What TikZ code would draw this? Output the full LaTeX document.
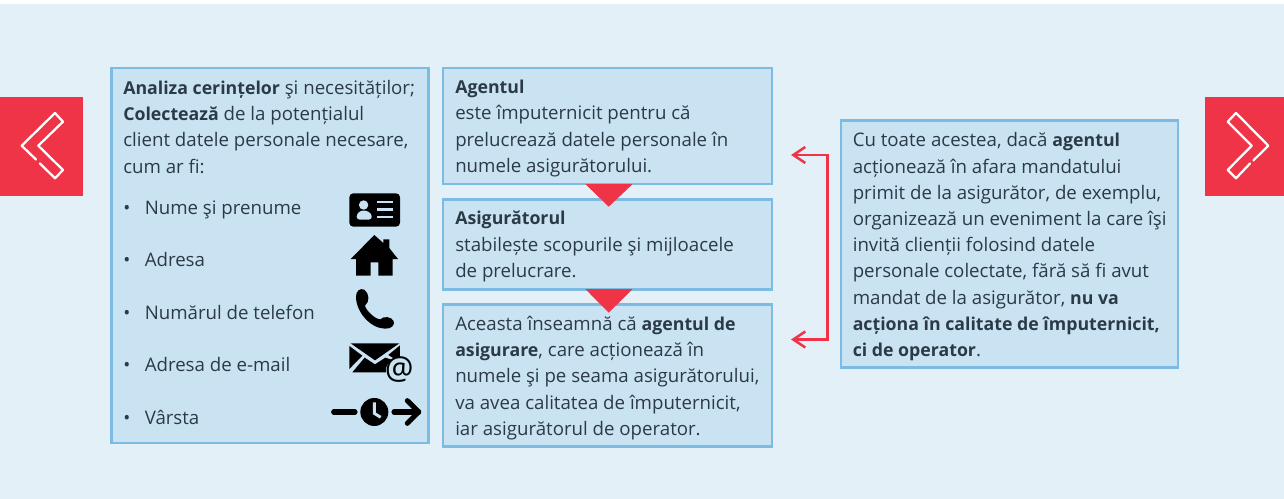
\documentclass[tikz,border=0pt]{standalone}
\usepackage{fontspec}
\setmainfont{Open Sans}[BoldFeatures={Scale=0.95}]
\usetikzlibrary{arrows.meta}
\definecolor{bgcolor}{HTML}{E3F0F8}
\definecolor{boxfill}{HTML}{CAE3F3}
\definecolor{boxline}{HTML}{7CBCE3}
\definecolor{redcolor}{HTML}{EE3446}
\definecolor{txtcolor}{HTML}{2B3A47}
\def \bodyfont {\fontsize{14pt}{19.65pt}\selectfont}
\tikzset{
  x=0.75pt,y=-0.75pt,
  infobox/.style 2 args={draw=boxline,fill=boxfill,line width=2.2pt,minimum width=#1*0.75pt,minimum height=#2*0.75pt,anchor=north west,inner sep=0pt,outer sep=0pt},
  infotext/.style={anchor=north west,align=left,text=txtcolor,inner sep=0pt,font=\bodyfont},
  itemtext/.style={anchor=base west,text=txtcolor,inner sep=0pt,font=\bodyfont},
  redbox/.style={fill=redcolor,draw=none},
  chev/.style={draw=white,line width=1.7pt,line cap=round,line join=round},
  bracket/.style={draw=redcolor,line width=1.9pt,{Straight Barb[length=9pt,width=12pt,line width=1.9pt]}-{Straight Barb[length=9pt,width=12pt,line width=1.9pt]}},
  iconline/.style={draw=black,line width=3.8pt,line cap=round,line join=round}
}
\begin{document}
\begin{tikzpicture}
\useasboundingbox (0,0) rectangle (1284,499);
\fill[bgcolor] (0,4) rectangle (1284,499);
% Side buttons
\fill[redbox] (0,97) rectangle (83,196);
\fill[redbox] (1205,97) rectangle (1284,196);
\draw[chev] (36,159.5) -- (21.7,145.7) -- (55,113) -- (63,121.7) -- (38.3,145.7) -- (63,170) -- (55,178.3) -- (40,163.5);
\draw[chev] (1253.3,160.5) -- (1268.3,145.7) -- (1236,113) -- (1227.7,121.7) -- (1251.7,145.7) -- (1227.7,170) -- (1236,178.3) -- (1250,163.5);
% Boxes
\node[infobox={317}{375}] (reqbox) at (111.5,68) {};
\node[infobox={329}{116}] (agentbox) at (443,68) {};
\node[infobox={329}{90}] (insurerbox) at (443,199.5) {};
\node[infobox={329}{142}] (meaningbox) at (443,304.5) {};
\node[infobox={337}{247}] (outsidebox) at (841,120.5) {};
% Triangles between the boxes
\fill[redcolor] (585.3,184) -- (632.7,184) -- (608.7,206.7) -- cycle;
\fill[redcolor] (585.3,289) -- (632.7,289) -- (608.7,312.7) -- cycle;
% Texts
\node[infotext] (reqtext) at (123,80) {\textbf{Analiza cerințelor} şi necesităților;\\\textbf{Colectează} de la potențialul\\client datele personale necesare,\\cum ar fi:};
\node[infotext] (agenttext) at (455,80) {\textbf{Agentul}\\este împuternicit pentru că\\prelucrează datele personale în\\numele asigurătorului.};
\node[infotext] (insurertext) at (455,211) {\textbf{Asigurătorul}\\stabilește scopurile şi mijloacele\\de prelucrare.};
\node[infotext] (meaningtext) at (455,316) {Aceasta înseamnă că \textbf{agentul de}\\\textbf{asigurare}, care acționează în\\numele şi pe seama asigurătorului,\\va avea calitatea de împuternicit,\\iar asigurătorul de operator.};
\node[infotext] (outsidetext) at (852.5,132.5) {Cu toate acestea, dacă \textbf{agentul}\\acționează în afara mandatului\\primit de la asigurător, de exemplu,\\organizează un eveniment la care îşi\\invită clienții folosind datele\\personale colectate, fără să fi avut\\mandat de la asigurător, \textbf{nu va}\\\textbf{acționa în calitate de împuternicit,}\\\textbf{ci de operator}.};
% List items
\foreach \i/\ypos/\itemlabel in {1/214/Nume şi prenume,2/266/Adresa,3/319/Numărul de telefon,4/371/Adresa de e-mail,5/424/Vârsta}
{
\node[itemtext] (bullet\i) at (123,\ypos) {•};
\node[itemtext] (item\i) at (144.5,\ypos) {\itemlabel};
}
% Bracket
\coordinate (agentend) at (791,155);
\coordinate (meaningend) at (791,339.5);
\coordinate (bracktop) at (827.7,155);
\coordinate (brackbot) at (827.7,339.5);
\draw[bracket] (agentend) -- (bracktop) -- (brackbot) -- (meaningend);
% Id card
\fill[black,rounded corners=3pt] (349.3,193.3) rectangle (400,226.7);
\fill[boxfill] (363.6,205) circle (4.7);
\fill[boxfill,rounded corners=2pt] (356.7,219.5) -- (356.7,214) -- (361,210.5) -- (366.5,210.5) -- (371.7,214) -- (371.7,219.5) -- cycle;
\foreach \ypos in {201.7,209.4,217.3}
{
\fill[boxfill] (376.7,\ypos-1.1) rectangle (392.7,\ypos+1.1);
}
% House
\fill[black] (374.3,235) -- (383.3,243) -- (383.3,239.3) -- (389.3,239.3) -- (389.3,248) -- (398,259) -- (392.7,259) -- (392.7,275.7) -- (378.3,275.7) -- (378.3,262.3) -- (370.7,262.3) -- (370.7,275.7) -- (356,275.7) -- (356,259) -- (350.7,259) -- cycle;
% Phone
\begin{scope}[shift={(320,285)},scale=0.3333]
\fill[black] (108,35) .. controls (108,80) and (150,130) .. (195,131) .. controls (215,132) and (225,120) .. (221,108) .. controls (215,95) and (190,92) .. (181,103) .. controls (165,103) and (137,75) .. (135,62) .. controls (150,50) and (148,25) .. (133,14) .. controls (120,8) and (108,18) .. (108,35) -- cycle;
\end{scope}
% Envelope
\begin{scope}[shift={(320,285)},scale=0.3333]
\fill[black] (92,175) -- (238,175) -- (165,226) -- cycle;
\fill[black] (88,183) -- (127,212) -- (88,252) -- cycle;
\fill[black] (97,262) -- (134,218) -- (165,238) -- (196,218) -- (240,232) -- (240,262) -- cycle;
\fill[black] (240,181) -- (240,232) -- (205,210) -- cycle;
\fill[boxfill] (238,257) circle (40);
\node[inner sep=0pt,font=\fontsize{24pt}{24pt}\selectfont] (atsign) at (238,255) {@};
\end{scope}
% Clock and arrow
\begin{scope}[shift={(320,285)},scale=0.3333]
\draw[iconline] (41,381) -- (105,381);
\fill[black] (163,381) circle (42);
\draw[boxfill,line width=2.2pt] (163,352) -- (163,385) -- (182,397);
\draw[iconline] (222,381) -- (296,381);
\draw[iconline] (262,347) -- (296,381) -- (262,415);
\end{scope}
\end{tikzpicture}
\end{document}
